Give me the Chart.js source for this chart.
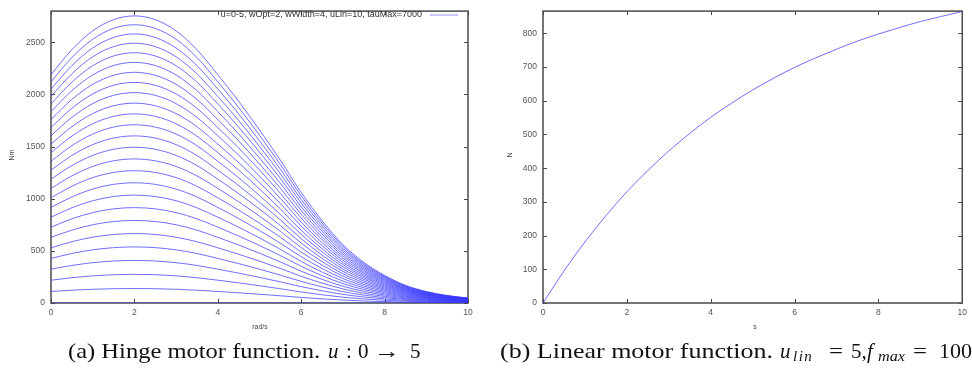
<!DOCTYPE html>
<html><head><meta charset="utf-8">
<script src="https://cdn.jsdelivr.net/npm/chart.js@4"></script>
<style>
html,body{margin:0;padding:0;background:#fff;width:972px;height:374px;overflow:hidden}
#wrap{position:relative;width:972px;height:374px;background:#fff;overflow:hidden}
.cv{position:absolute;top:0}
.t{position:absolute;top:342px;line-height:18px;font-family:"Liberation Serif",serif;font-size:21px;white-space:nowrap;color:#111;transform-origin:left center}
.i{font-style:italic}
.s{top:347px;font-size:15px}
</style></head><body>
<div id="wrap">
  <canvas id="c1" class="cv" width="480" height="340" style="left:0"></canvas>
  <canvas id="c2" class="cv" width="492" height="340" style="left:480px"></canvas>
  <span class="t" style="left:68px" data-w="252">(a) Hinge motor function.</span>
  <span class="t i" style="left:328px">u</span>
  <span class="t" style="left:346px">:</span>
  <span class="t" style="left:358px">0</span>
  <span class="t" style="left:374px" data-w="26">→</span>
  <span class="t" style="left:410px">5</span>

  <span class="t" style="left:500px" data-w="273">(b) Linear motor function.</span>
  <span class="t i" style="left:780px">u</span>
  <span class="t i s" style="left:793px;letter-spacing:1.5px">lin</span>
  <span class="t" style="left:829px" data-w="14">=</span>
  <span class="t" style="left:851px">5,</span>
  <span class="t i" style="left:867px">f</span>
  <span class="t i s" style="left:878px" data-w="27">max</span>
  <span class="t" style="left:913px" data-w="14">=</span>
  <span class="t" style="left:939px" data-w="33">100</span>
</div>
<script>
// ---------- data ----------
// (a) hinge motor: angular speed samples (rad/s)
const hingeSpeed = [0,0.5,1,1.5,2,2.5,3,3.5,4,4.5,5,5.5,6,6.5,7,7.5,8,8.5,9,9.5,10];
// u values of the curve family
const hingeU = [0,0.2,0.4,0.6,0.8,1,1.2,1.4,1.6,1.8,2,2.2,2.4,2.6,2.8,3,3.2,3.4,3.6,3.8,4,4.2,4.4,4.6,4.8,5];
// peak torque (Nm, at 2 rad/s) of each curve
const hingePeak = [0,139,275,408,538,666,792,915,1035,1153,1269,1382,1494,1603,1710,1814,1917,2018,2116,2213,2308,2401,2492,2581,2669,2754];
// torque of the top curve (u=5) at each speed sample (Nm)
const hingeTop = [2190,2430,2610,2718,2754,2718,2610,2430,2190,1935,1660,1370,1060,790,560,390,265,170,110,72,48];
const hingeXTicks = [0,2,4,6,8,10];
const hingeYTicks = [0,500,1000,1500,2000,2500];
const hingeLegend = "u=0-5, wOpt=2, wWidth=4, uLin=10, tauMax=7000";

// (b) linear motor
const linU = [0,0.5,1,1.5,2,2.5,3,3.5,4,4.5,5,5.5,6,6.5,7,7.5,8,8.5,9,9.5,10];
const linForce = [0,95,181,259,330,393,451,503,551,593,632,667,699,727,753,777,798,817,835,850,865];
const linXTicks = [0,2,4,6,8,10];
const linYTicks = [0,100,200,300,400,500,600,700,800];

// ---------- caption fitting (horizontal scale to the reference widths) ----------
document.querySelectorAll('[data-w]').forEach(el=>{
  const target = +el.dataset.w;
  const w = el.getBoundingClientRect().width;
  el.style.transform = 'scaleX('+(target/w).toFixed(3)+')';
});

// ---------- styling ----------
const BLUE = 'rgba(55,55,255,0.72)';
const AXC = '#555';
const TICKFONT = {family:'"Liberation Sans", Arial, sans-serif', size:8.5};

function framePlugin(cfg){
  return {
    id:'frame'+cfg.key,
    beforeDatasetsDraw(chart){
      const {ctx, chartArea:a, scales:{x,y}} = chart;
      ctx.save();
      ctx.strokeStyle = '#4a4a4a';
      ctx.lineWidth = 1.5;
      ctx.strokeRect(a.left, a.top, a.right-a.left, a.bottom-a.top);
      ctx.lineWidth = 1;
      ctx.beginPath();
      x.ticks.forEach(t=>{
        const p = Math.round(x.getPixelForValue(t.value))+0.5;
        ctx.moveTo(p,a.bottom); ctx.lineTo(p,a.bottom-4);
        ctx.moveTo(p,a.top); ctx.lineTo(p,a.top+4);
      });
      y.ticks.forEach(t=>{
        const p = Math.round(y.getPixelForValue(t.value))+0.5;
        ctx.moveTo(a.left,p); ctx.lineTo(a.left+4,p);
        ctx.moveTo(a.right,p); ctx.lineTo(a.right-4,p);
      });
      ctx.stroke();
      ctx.restore();
    },
    afterDraw(chart){
      const {ctx} = chart;
      ctx.save();
      ctx.fillStyle = '#444';
      ctx.font = '7px "Liberation Sans", Arial, sans-serif';
      ctx.textAlign = 'center'; ctx.textBaseline = 'middle';
      ctx.fillText(cfg.xTitle, cfg.xTitleX, cfg.xTitleY);
      ctx.translate(cfg.yTitleX, cfg.yTitleY);
      ctx.rotate(-Math.PI/2);
      ctx.fillText(cfg.yTitle, 0, 0);
      ctx.restore();
      if (cfg.legend){
        ctx.save();
        ctx.fillStyle = '#333';
        ctx.font = '9px "Liberation Sans", Arial, sans-serif';
        ctx.textAlign = 'right'; ctx.textBaseline = 'middle';
        ctx.fillText(cfg.legend, cfg.legendX, cfg.legendY);
        ctx.strokeStyle = 'rgba(80,80,255,0.6)'; ctx.lineWidth = 1;
        ctx.beginPath();
        ctx.moveTo(cfg.legendX+8, cfg.legendY); ctx.lineTo(cfg.legendX+36, cfg.legendY);
        ctx.stroke();
        ctx.restore();
      }
    }
  };
}

function axisOpts(min,max,tickVals,fitProp,fitVal,pad){
  return {
    type:'linear', min, max,
    afterFit(s){ s[fitProp] = fitVal; },
    afterBuildTicks(s){ s.ticks = tickVals.map(v=>({value:v})); },
    grid:{display:false, drawTicks:false},
    border:{display:false},
    ticks:{padding:pad, font:TICKFONT, color:AXC, maxRotation:0, autoSkip:false,
      callback:(v)=>String(v)}
  };
}

// (a)
const topPeak = hingePeak[hingePeak.length-1];
const hingeSets = hingeU.map((u,i)=>({
  label:'u='+u,
  data: hingeSpeed.map((w,j)=>({x:w, y: hingePeak[i]*hingeTop[j]/topPeak})),
  borderColor: BLUE, borderWidth:1, pointRadius:0, fill:false,
  cubicInterpolationMode:'monotone'
}));
new Chart(document.getElementById('c1'),{
  type:'line',
  data:{datasets:hingeSets},
  options:{
    responsive:false, animation:false,
    layout:{padding:{top:6,right:12,left:0,bottom:0}},
    plugins:{legend:{display:false}, tooltip:{enabled:false}},
    scales:{
      x: axisOpts(0,10,hingeXTicks,'height',37,5),
      y: axisOpts(0,2800,hingeYTicks,'width',51,6)
    }
  },
  plugins:[framePlugin({key:'a', xTitle:'rad/s', xTitleX:260, xTitleY:327, yTitle:'Nm', yTitleX:12.5, yTitleY:155,
    legend:hingeLegend, legendX:422, legendY:15})]
});

// (b)
new Chart(document.getElementById('c2'),{
  type:'line',
  data:{datasets:[{
    label:'f',
    data: linU.map((u,j)=>({x:u, y:linForce[j]})),
    borderColor: BLUE, borderWidth:1, pointRadius:0, fill:false,
    cubicInterpolationMode:'monotone'
  }]},
  options:{
    responsive:false, animation:false,
    layout:{padding:{top:6,right:5,left:0,bottom:0}},
    plugins:{legend:{display:false}, tooltip:{enabled:false}},
    scales:{
      x: axisOpts(0,10,linXTicks,'height',37,5),
      y: axisOpts(0,866,linYTicks,'width',63,6)
    }
  },
  plugins:[framePlugin({key:'b', xTitle:'s', xTitleX:275, xTitleY:327, yTitle:'N', yTitleX:30, yTitleY:155})]
});
</script>
</body></html>
